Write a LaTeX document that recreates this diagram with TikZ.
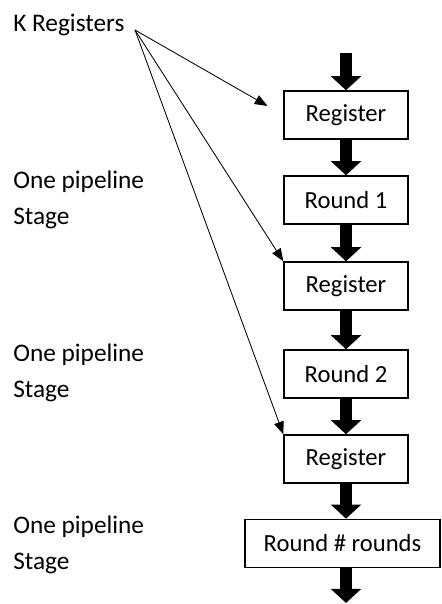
\documentclass[tikz,border=0pt]{standalone}
\usepackage{fontspec}
\setmainfont{Carlito}
\usepackage{tikz}
\usetikzlibrary{arrows.meta,calc}

\tikzset{
    stagebox/.style={draw, line width=1pt, minimum width=3.1cm, minimum height=1.2cm, inner sep=0pt, font=\fontsize{17.5}{20}\selectfont},
    sidetext/.style={anchor=west, inner sep=0pt, align=left, font=\fontsize{18}{25.5}\selectfont},
    flow/.style={line width=9pt, -{Triangle[width=21pt,length=10pt]}},
    feed/.style={line width=0.6pt, -{Triangle[length=9pt,width=7pt]}}
}

\begin{document}
\begin{tikzpicture}[scale=0.5]

    \useasboundingbox (0,0) rectangle (22.05,30.2);

    % labels on the left
    \node[sidetext] (kreg) at (0.65,28.95) {K Registers};
    \node[sidetext] (stage1) at (0.65,20.2) {One pipeline\\Stage};
    \node[sidetext] (stage2) at (0.65,11.575) {One pipeline\\Stage};
    \node[sidetext] (stage3) at (0.65,2.975) {One pipeline\\Stage};
    \coordinate (kout) at (6.75,28.7);

    % pipeline
    \node[stagebox] (reg1) at (17.3,24.45) {Register};
    \node[stagebox] (round1) at (17.3,20.2) {Round 1};
    \node[stagebox] (reg2) at (17.3,15.9) {Register};
    \node[stagebox] (round2) at (17.3,11.5) {Round 2};
    \node[stagebox] (reg3) at (17.3,7.25) {Register};
    \node[stagebox, minimum width=4.875cm] (last) at (17.125,3.03) {Round \# rounds};

    \coordinate (top) at (17.3,27.55);
    \coordinate (bot) at (17.3,0.05);

    \draw[flow] (top) -- (reg1.north);
    \draw[flow] (reg1.south) -- (round1.north);
    \draw[flow] (round1.south) -- (reg2.north);
    \draw[flow] (reg2.south) -- (round2.north);
    \draw[flow] (round2.south) -- (reg3.north);
    \draw[flow] (reg3.south) -- (reg3.south |- last.north);
    \draw[flow] (last.south -| reg3) -- (bot);

    % key registers fan out
    \draw[feed, shorten >=13pt] (kout) -- (reg1.west);
    \draw[feed] (kout) -- (reg2.north west);
    \draw[feed] (kout) -- (reg3.north west);

\end{tikzpicture}
\end{document}
